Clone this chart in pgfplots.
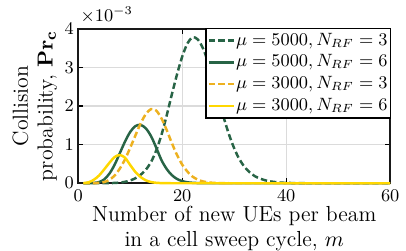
\documentclass[border=0pt]{standalone}
\usepackage{pgfplots}
\pgfplotsset{compat=1.18}
\definecolor{dgreen}{RGB}{40,100,70}
\definecolor{morange}{RGB}{237,177,32}
\definecolor{myellow}{RGB}{255,215,0}
\begin{document}
\begin{tikzpicture}
\path (-39.5pt,-33.5pt) rectangle (163.5pt,92.5pt);
\begin{axis}[at={(0,0)}, anchor=south west, scale only axis,
  width=157.5pt, height=78pt,
  xmin=0, xmax=60, ymin=0, ymax=0.004,
  xtick={0,20,40,60}, ytick={0,0.001,0.002,0.003,0.004},
  grid=major, major grid style={color=black!14, line width=0.6pt},
  axis line style={line width=0.85pt, black!90},
  tick style={line width=0.6pt, black}, major tick length=2.5pt,
  ticklabel style={font=\fontsize{9}{10}\selectfont},
  yticklabel style={inner xsep=2pt},
  scaled y ticks=base 10:3,
  tick scale binop=\times,
  every y tick scale label/.style={at={(rel axis cs:0,1)}, anchor=south west, inner sep=1pt, yshift=1.5pt, font=\fontsize{9}{10}\selectfont},
  clip=false,
  xlabel={Number of new UEs per beam\\in a cell sweep cycle, $m$},
  ylabel={Collision\\probability, $\mathbf{Pr_c}$},
  xlabel style={at={(axis description cs:0.5,0)}, anchor=north, align=center, inner sep=0pt, yshift=-11.3pt, font=\fontsize{11}{12.5}\selectfont},
  ylabel style={at={(axis description cs:-0.0667,0.5)}, anchor=south, align=center, inner sep=0pt, font=\fontsize{11}{12.5}\selectfont},
  legend style={at={(rel axis cs:1,1)}, anchor=north east, xshift=0.5pt, yshift=0.5pt, draw=black, line width=0.8pt,
    fill=white, inner xsep=0.8pt, inner ysep=0.5pt, nodes={inner xsep=0.6pt, inner ysep=1.7pt}, row sep=0pt,
    font=\fontsize{9}{10}\selectfont},
  legend cell align=left,
  legend image code/.code={\draw[#1] (0pt,0pt) -- (12.5pt,0pt);},
]
\addplot[color=dgreen, line width=1.25pt, dash pattern=on 3.2pt off 1.6pt, smooth] coordinates {
(1,0)(2,0)(3,0)(4,0)(5,0.000001)(6,0.000003)(7,0.000008)(8,0.000018)(9,0.000037)(10,0.000072)
(11,0.00013)(12,0.00022)(13,0.00035)(14,0.00055)(15,0.00085)(16,0.00125)(17,0.00175)(18,0.00230)
(19,0.00282)(20,0.00328)(21,0.00362)(22,0.00378)(23,0.00372)(24,0.00349)(25,0.00312)(26,0.00266)
(27,0.00217)(28,0.00169)(29,0.00126)(30,0.00090)(31,0.00062)(32,0.00042)(33,0.00028)(34,0.00018)
(35,0.00012)(36,0.000075)(37,0.000047)(38,0.000029)(39,0.000017)(40,0.000010)(41,0.000006)
(42,0.000003)(43,0.000002)(44,0)(45,0)(60,0)};
\addlegendentry{$\mu=5000, N_{RF}=3$}
\addplot[color=dgreen, line width=1.25pt, smooth] coordinates {
(1,0)(2,0.000001)(3,0.000008)(4,0.00003)(5,0.00010)(6,0.00025)(7,0.00048)(8,0.00078)(9,0.00108)
(10,0.00133)(11,0.00148)(12,0.00151)(13,0.00142)(14,0.00122)(15,0.00092)(16,0.00060)(17,0.00037)
(18,0.00021)(19,0.00011)(20,0.000055)(21,0.000025)(22,0.000011)(23,0.000005)(24,0.000002)
(25,0)(26,0)(60,0)};
\addlegendentry{$\mu=5000, N_{RF}=6$}
\addplot[color=morange, line width=1.25pt, dash pattern=on 3.2pt off 1.6pt, smooth] coordinates {
(1,0)(2,0)(3,0.000002)(4,0.00001)(5,0.00003)(6,0.00009)(7,0.00020)(8,0.00038)(9,0.00062)
(10,0.00092)(11,0.00124)(12,0.00155)(13,0.00179)(14,0.00192)(15,0.00188)(16,0.00168)(17,0.00138)
(18,0.00104)(19,0.00073)(20,0.00048)(21,0.00030)(22,0.00017)(23,0.000092)(24,0.000047)
(25,0.000022)(26,0.00001)(27,0.000004)(28,0.000002)(29,0)(30,0)(60,0)};
\addlegendentry{$\mu=3000, N_{RF}=3$}
\addplot[color=myellow, line width=1.25pt, smooth] coordinates {
(1,0.000005)(2,0.000025)(3,0.00009)(4,0.00020)(5,0.00036)(6,0.00053)(7,0.00068)(8,0.00073)
(9,0.00066)(10,0.00047)(11,0.00029)(12,0.00016)(13,0.000075)(14,0.000032)(15,0.000012)
(16,0.000004)(17,0.000001)(18,0)(19,0)(60,0)};
\addlegendentry{$\mu=3000, N_{RF}=6$}
\end{axis}
\end{tikzpicture}
\end{document}
